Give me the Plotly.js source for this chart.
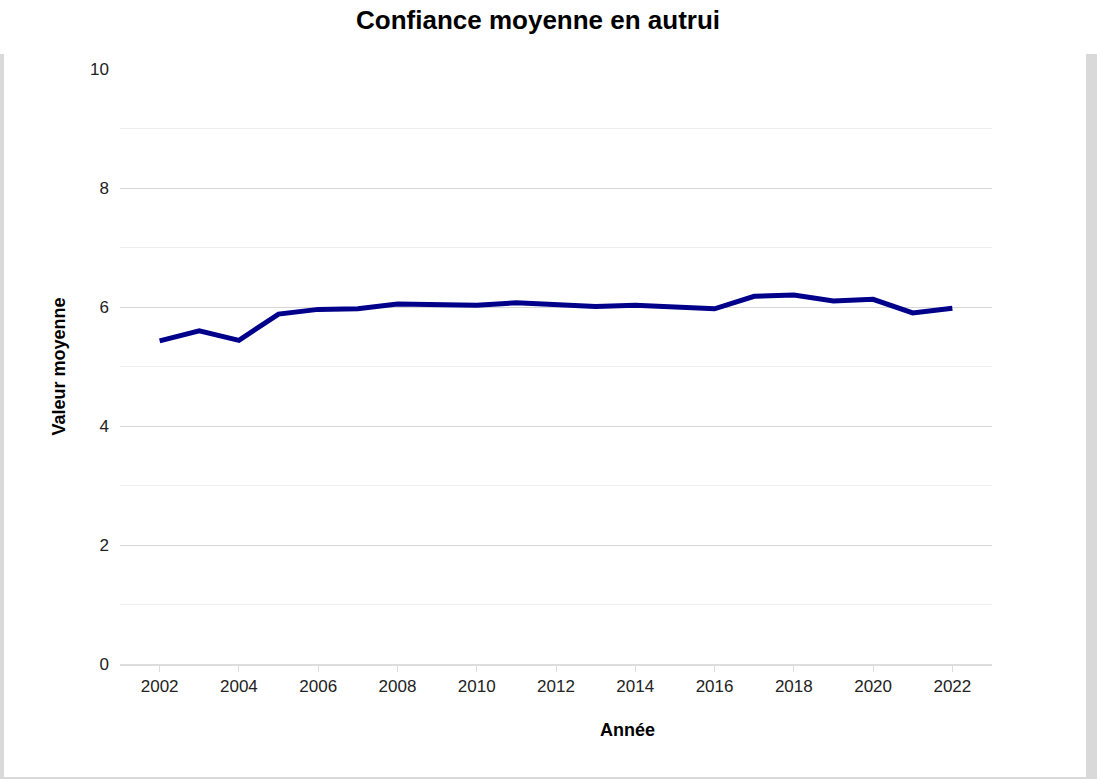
<!DOCTYPE html>
<html><head><meta charset="utf-8">
<script src="https://cdn.plot.ly/plotly-3.0.1.min.js"></script>
<style>
html,body{margin:0;padding:0;background:#fff;overflow:hidden;}
#frameL{position:absolute;left:0;top:54px;width:4px;height:725px;background:#d9d9d9;}
#frameR{position:absolute;left:1086px;top:54px;width:11px;height:725px;background:#d9d9d9;}
#frameB{position:absolute;left:0;top:777px;width:1097px;height:2px;background:#d9d9d9;}
#chart{position:absolute;left:0;top:0;width:1097px;height:779px;}
</style></head>
<body>
<div id="frameL"></div><div id="frameR"></div><div id="frameB"></div>
<div id="chart"></div>
<script>
const years = [2002,2003,2004,2005,2006,2007,2008,2009,2010,2011,2012,2013,2014,2015,2016,2017,2018,2019,2020,2021,2022];
const values = [5.43,5.60,5.44,5.88,5.96,5.97,6.05,6.04,6.03,6.07,6.03,6.01,6.03,5.99,5.97,6.18,6.20,6.10,6.13,5.90,5.98];
const yTicks = [0,2,4,6,8,10];
const xTicks = [2002,2004,2006,2008,2010,2012,2014,2016,2018,2020,2022];

Plotly.newPlot('chart', [{
  x: years, y: values, type: 'scatter', mode: 'lines',
  line: {color: '#00008b', width: 5}, hoverinfo: 'x+y'
}], {
  width: 1097, height: 779,
  margin: {l: 120, r: 105, t: 69, b: 115},
  paper_bgcolor: 'rgba(0,0,0,0)', plot_bgcolor: 'rgba(0,0,0,0)',
  font: {family: 'Arial, Liberation Sans, sans-serif', color: '#222'},
  showlegend: false,
  title: {text: 'Confiance moyenne en autrui', x: 0.4905, xanchor: 'center', y: 0.974, yanchor: 'middle',
          font: {size: 26, color: '#000', family: 'Arial, Liberation Sans, sans-serif', weight: 'bold'}},
  xaxis: {
    range: [2001, 2023], tickvals: xTicks, ticktext: xTicks.map(String),
    showgrid: false, zeroline: false, showline: true, linecolor: '#dddddd', linewidth: 2,
    ticks: 'outside', ticklen: 6, tickcolor: '#dddddd', tickwidth: 1,
    tickfont: {size: 17, color: '#222'}
  },
  yaxis: {
    range: [0, 10], tickvals: yTicks, ticktext: yTicks.map(String),
    showgrid: true, gridcolor: '#d6d6d6', gridwidth: 1, zeroline: false, showline: false,
    ticks: '', ticklabelstandoff: 10,
    minor: {dtick: 1, showgrid: true, gridcolor: '#efefef', gridwidth: 1},
    tickfont: {size: 17, color: '#222'},
    title: {text: 'Valeur moyenne', standoff: 19, font: {size: 18, color: '#000', weight: 'bold'}}
  },
  annotations: [{
    text: 'Année', xref: 'paper', yref: 'paper', x: 0.5815, y: -0.111,
    xanchor: 'center', yanchor: 'middle', showarrow: false,
    font: {size: 18, color: '#000', family: 'Arial, Liberation Sans, sans-serif', weight: 'bold'}
  }]
}, {displayModeBar: false});
</script>
</body></html>
